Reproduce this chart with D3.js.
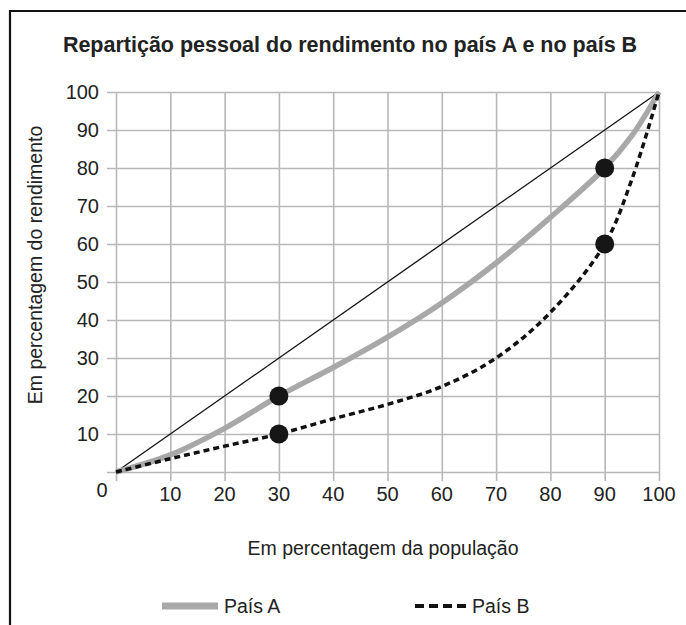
<!DOCTYPE html>
<html>
<head>
<meta charset="utf-8">
<script src="https://cdn.jsdelivr.net/npm/d3@7"></script>
<style>
  body { margin: 0; background: #fff; }
  text { font-family: "Liberation Sans", Arial, sans-serif; fill: #222; }
  .title { font-weight: bold; }
</style>
</head>
<body>
<script>
// values
const popPct = [0, 10, 20, 30, 40, 50, 60, 70, 80, 90, 95, 100];
const paisA = [0, 4.5, 11.5, 20, 27.5, 35.5, 44.5, 55, 67, 80, 88.5, 100];
const paisB = [0, 3.5, 6.8, 10, 14, 17.8, 22.5, 30, 42, 60, 77, 100];
const dotX = [30, 30, 90, 90];
const dotY = [20, 10, 80, 60];
const tickVals = [10, 20, 30, 40, 50, 60, 70, 80, 90, 100];

const width = 686, height = 625;
const margin = { left: 116, right: 27, top: 92, bottom: 153 };

const svg = d3.select("body").append("svg")
    .attr("width", width)
    .attr("height", height);

// frame (top + left edge only visible)
svg.append("path")
    .attr("d", "M10,640 L10,11 L690,11")
    .attr("fill", "none")
    .attr("stroke", "#111")
    .attr("stroke-width", 2.2);

svg.append("text")
    .attr("class", "title")
    .attr("x", 350)
    .attr("y", 52)
    .attr("text-anchor", "middle")
    .style("font-size", "21.5px")
    .text("Repartição pessoal do rendimento no país A e no país B");

const x = d3.scaleLinear().domain([0, 100]).range([margin.left, width - margin.right]);
const y = d3.scaleLinear().domain([0, 100]).range([height - margin.bottom, margin.top]);

// grid + axes
let gx = svg.append("g")
    .attr("transform", "translate(0," + y(0) + ")")
    .call(d3.axisBottom(x).tickValues([0].concat(tickVals)).tickSizeOuter(0).tickFormat(""));
gx.selectAll(".tick line").attr("y2", -(y(0) - y(100))).attr("y1", 9);
let gy = svg.append("g")
    .attr("transform", "translate(" + x(0) + ",0)")
    .call(d3.axisLeft(y).tickValues([0].concat(tickVals)).tickSizeOuter(0).tickFormat(""));
gy.selectAll(".tick line").attr("x1", -9).attr("x2", x(100) - x(0));
svg.selectAll(".domain").remove();
svg.selectAll(".tick line").attr("stroke", "#b8b8b8").attr("stroke-width", 1.6);

// tick labels
svg.append("g").selectAll("text")
    .data(tickVals)
    .join("text")
    .attr("x", d => x(d))
    .attr("y", y(0) + 29)
    .attr("text-anchor", "middle")
    .style("font-size", "20px")
    .text(d => d);
svg.append("g").selectAll("text")
    .data(tickVals)
    .join("text")
    .attr("x", x(0) - 17)
    .attr("y", d => y(d) + 7)
    .attr("text-anchor", "end")
    .style("font-size", "20px")
    .text(d => d);
svg.append("text")
    .attr("x", x(0) - 14)
    .attr("y", y(0) + 25)
    .attr("text-anchor", "middle")
    .style("font-size", "20px")
    .text("0");

// axis titles
svg.append("text")
    .attr("x", 383)
    .attr("y", 555)
    .attr("text-anchor", "middle")
    .style("font-size", "19.5px")
    .text("Em percentagem da população");
svg.append("text")
    .attr("transform", "translate(42,265) rotate(-90)")
    .attr("text-anchor", "middle")
    .style("font-size", "19.5px")
    .text("Em percentagem do rendimento");

// equality line
svg.append("line")
    .attr("x1", x(0)).attr("y1", y(0))
    .attr("x2", x(100)).attr("y2", y(100))
    .attr("stroke", "#111")
    .attr("stroke-width", 1.3);

const line = d3.line().curve(d3.curveCatmullRom.alpha(0.5));

svg.append("path")
    .attr("d", line(popPct.map((p, i) => [x(p), y(paisA[i])])))
    .attr("fill", "none")
    .attr("stroke", "#a8a8a8")
    .attr("stroke-width", 5.5);

svg.append("path")
    .attr("d", line(popPct.map((p, i) => [x(p), y(paisB[i])])))
    .attr("fill", "none")
    .attr("stroke", "#111")
    .attr("stroke-width", 3.5)
    .attr("stroke-dasharray", "6,4");

svg.append("g").selectAll("circle")
    .data(dotX)
    .join("circle")
    .attr("cx", d => x(d))
    .attr("cy", (d, i) => y(dotY[i]))
    .attr("r", 9.5)
    .attr("fill", "#161616");

// legend
svg.append("line")
    .attr("x1", 162).attr("x2", 218)
    .attr("y1", 606).attr("y2", 606)
    .attr("stroke", "#a8a8a8")
    .attr("stroke-width", 7);
svg.append("text")
    .attr("x", 224).attr("y", 613)
    .style("font-size", "19.5px")
    .text("País A");
svg.append("line")
    .attr("x1", 415).attr("x2", 468)
    .attr("y1", 606).attr("y2", 606)
    .attr("stroke", "#111")
    .attr("stroke-width", 4)
    .attr("stroke-dasharray", "9,5");
svg.append("text")
    .attr("x", 472).attr("y", 613)
    .style("font-size", "19.5px")
    .text("País B");
</script>
</body>
</html>
